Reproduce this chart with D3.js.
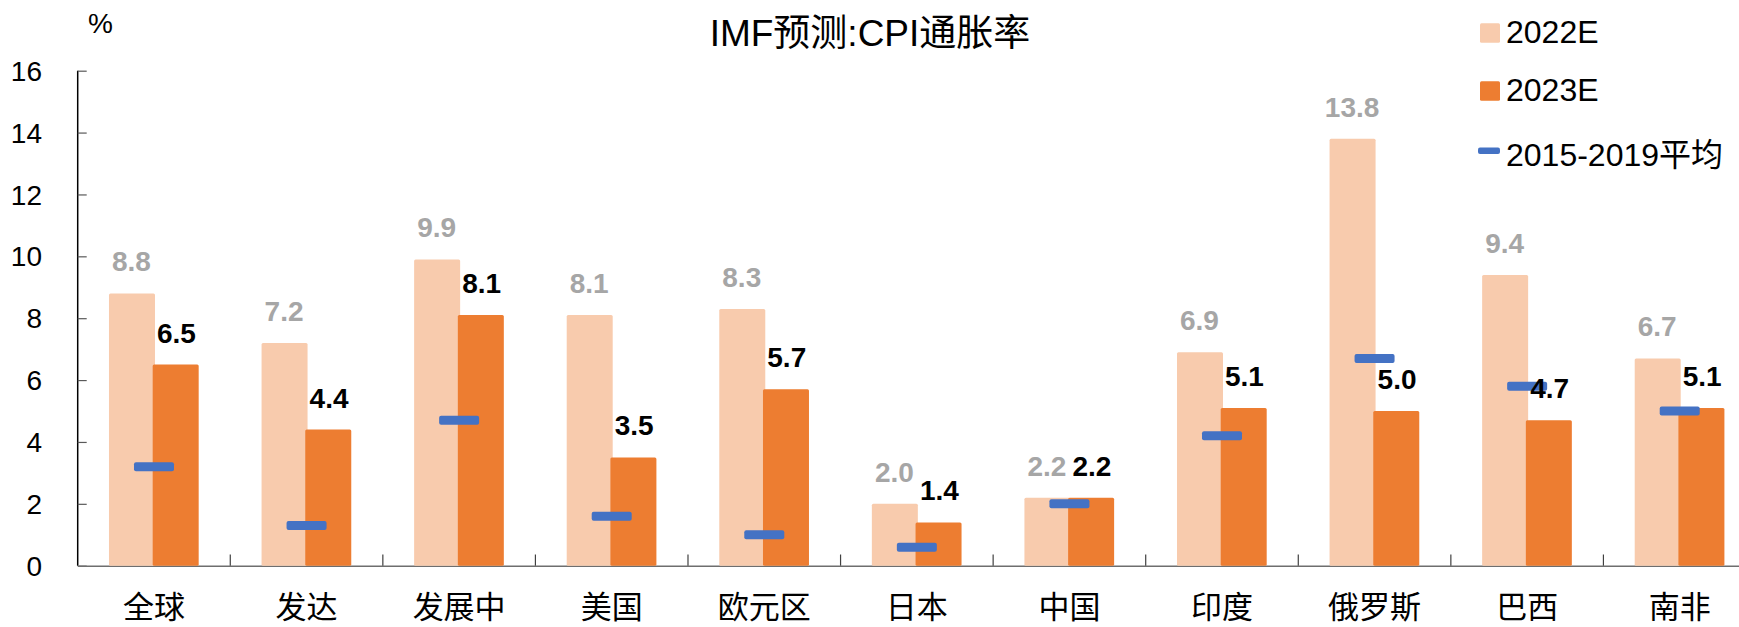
<!DOCTYPE html>
<html>
<head>
<meta charset="utf-8">
<script src="https://cdn.jsdelivr.net/npm/d3@7"></script>
<style>
  body { margin: 0; background: #fff; }
</style>
</head>
<body>
<script>
// data
const regions = ["全球", "发达", "发展中", "美国", "欧元区", "日本", "中国", "印度", "俄罗斯", "巴西", "南非"];
const cpi2022 = [8.8, 7.2, 9.9, 8.1, 8.3, 2.0, 2.2, 6.9, 13.8, 9.4, 6.7];
const cpi2023 = [6.5, 4.4, 8.1, 3.5, 5.7, 1.4, 2.2, 5.1, 5.0, 4.7, 5.1];
const avg1519 = [3.2, 1.3, 4.7, 1.6, 1.0, 0.6, 2.0, 4.2, 6.7, 5.8, 5.0];
const yTicks = [0, 2, 4, 6, 8, 10, 12, 14, 16];
const seriesNames = ["2022E", "2023E", "2015-2019平均"];

let canvasW = 1739;
let canvasH = 627;
const latin = "'Liberation Sans', Arial, 'Noto Sans CJK SC', sans-serif";
const cjk = "'Noto Sans CJK SC', sans-serif";

const lightC = "#F8CBAD";
const darkC = "#ED7D31";
const blueC = "#4472C4";
const grayLabel = "#A6A6A6";

let svg = d3.select("body").append("svg")
  .attr("width", canvasW)
  .attr("height", canvasH)
  .style("background-color", "#fff");

// scales (category band runs past the right edge, like the original crop)
let x = d3.scaleBand().domain(regions).range([77.7, 1756]).padding(0);
let y = d3.scaleLinear().domain([0, 16]).range([565.7, 70.7]);
let sub = d3.scaleBand().domain(["a", "b"]).range([-45, 45]);

let rows = regions.map((r, i) => ({ r: r, a: cpi2022[i], b: cpi2023[i], avg: avg1519[i] }));
let cx = d => x(d.r) + x.bandwidth() / 2;

// y axis
let yAxis = svg.append("g")
  .attr("transform", "translate(77.7,0)")
  .call(d3.axisRight(y).tickValues(yTicks).tickSize(9).tickFormat(""));
yAxis.select(".domain").attr("stroke", "#000").attr("stroke-width", 1.5).attr("d", "M0,70.7V565.7");
yAxis.selectAll(".tick line").attr("stroke", "#595959").attr("stroke-width", 1.2);

svg.append("g").selectAll("text")
  .data(yTicks)
  .enter().append("text")
  .attr("x", 42)
  .attr("y", d => y(d))
  .attr("dy", "0.36em")
  .attr("text-anchor", "end")
  .attr("font-family", latin)
  .attr("font-size", "28px")
  .attr("fill", "#000")
  .text(d => d);

// x axis
let xAxis = svg.append("g")
  .attr("transform", "translate(0,565.7)")
  .call(d3.axisBottom(x).tickSize(0).tickFormat(""));
xAxis.select(".domain").attr("stroke", "#6e6e6e").attr("stroke-width", 1.5);

svg.append("g").selectAll("line")
  .data(regions.slice(1))
  .enter().append("line")
  .attr("x1", d => x(d)).attr("x2", d => x(d))
  .attr("y1", 565.7).attr("y2", 554.5)
  .attr("stroke", "#404040")
  .attr("stroke-width", 1.2);

svg.append("g").selectAll("text")
  .data(regions)
  .enter().append("text")
  .attr("x", d => x(d) + x.bandwidth() / 2)
  .attr("y", 617.5)
  .attr("text-anchor", "middle")
  .attr("font-family", cjk)
  .attr("font-size", "31px")
  .attr("fill", "#000")
  .text(d => d);

// bars
svg.append("g").selectAll("rect")
  .data(rows)
  .enter().append("rect")
  .attr("x", d => cx(d) + sub("a"))
  .attr("y", d => y(d.a))
  .attr("width", sub.bandwidth() + 1)
  .attr("height", d => y(0) - y(d.a))
  .attr("rx", 1.5)
  .attr("fill", lightC);

svg.append("g").selectAll("rect")
  .data(rows)
  .enter().append("rect")
  .attr("x", d => cx(d) + sub("b") - 1.3)
  .attr("y", d => y(d.b))
  .attr("width", sub.bandwidth() + 1)
  .attr("height", d => y(0) - y(d.b))
  .attr("rx", 1.5)
  .attr("fill", darkC);

// 2015-2019 average markers
svg.append("g").selectAll("rect")
  .data(rows)
  .enter().append("rect")
  .attr("x", d => cx(d) - 20)
  .attr("y", d => y(d.avg) - 4.5)
  .attr("width", 40)
  .attr("height", 9)
  .attr("rx", 2)
  .attr("fill", blueC);

// value labels
svg.append("g").selectAll("text")
  .data(rows)
  .enter().append("text")
  .attr("x", d => cx(d) + sub("a") + sub.bandwidth() / 2)
  .attr("y", d => y(d.a) - 22)
  .attr("text-anchor", "middle")
  .attr("font-family", latin)
  .attr("font-weight", "bold")
  .attr("font-size", "28px")
  .attr("fill", grayLabel)
  .text(d => d.a.toFixed(1));

svg.append("g").selectAll("text")
  .data(rows)
  .enter().append("text")
  .attr("x", d => cx(d) + sub("b") + sub.bandwidth() / 2)
  .attr("y", d => y(d.b) - 22)
  .attr("text-anchor", "middle")
  .attr("font-family", latin)
  .attr("font-weight", "bold")
  .attr("font-size", "28px")
  .attr("fill", "#000")
  .text(d => d.b.toFixed(1));

// title and unit
svg.append("text")
  .attr("x", 870)
  .attr("y", 46)
  .attr("text-anchor", "middle")
  .attr("font-family", latin)
  .attr("font-size", "37px")
  .attr("fill", "#000")
  .text("IMF预测:CPI通胀率");

svg.append("text")
  .attr("x", 88)
  .attr("y", 33)
  .attr("font-family", latin)
  .attr("font-size", "28px")
  .attr("fill", "#000")
  .text("%");

// legend
let legendY = [42.7, 100.7, 165.5];
let legend = svg.append("g").selectAll("g")
  .data(seriesNames)
  .enter().append("g")
  .attr("transform", (d, i) => "translate(1480," + legendY[i] + ")");

legend.filter((d, i) => i < 2).append("rect")
  .attr("x", 0)
  .attr("y", -19.4)
  .attr("width", 20)
  .attr("height", 19.4)
  .attr("rx", 1.5)
  .attr("fill", (d, i) => i == 0 ? lightC : darkC);

legend.filter((d, i) => i == 2).append("rect")
  .attr("x", -2)
  .attr("y", -18)
  .attr("width", 22)
  .attr("height", 6.5)
  .attr("rx", 2)
  .attr("fill", blueC);

legend.append("text")
  .attr("x", 26)
  .attr("y", 0)
  .attr("font-family", latin)
  .attr("font-size", "32px")
  .attr("fill", "#000")
  .text(d => d);
</script>
</body>
</html>
